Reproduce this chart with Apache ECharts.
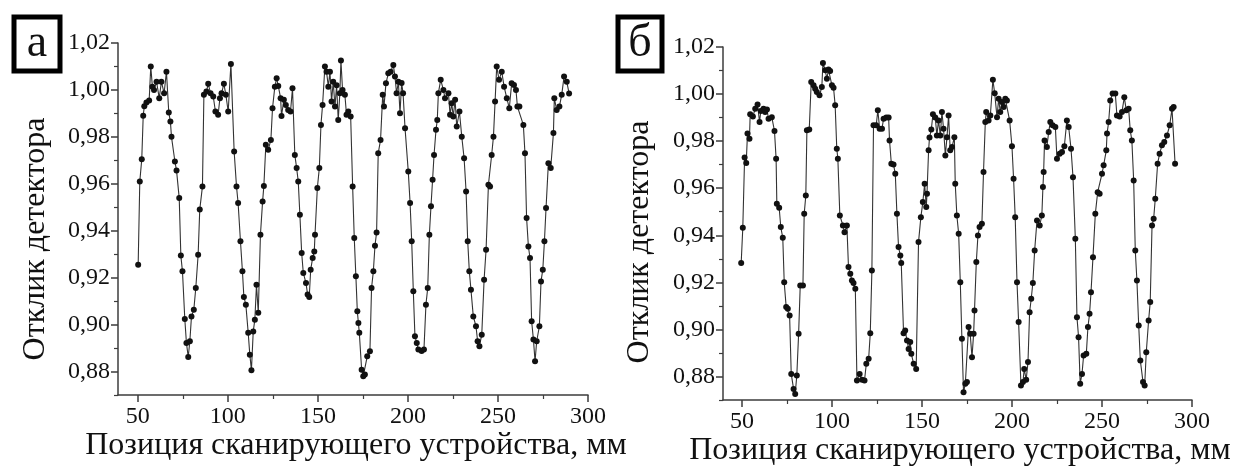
<!DOCTYPE html>
<html>
<head>
<meta charset="utf-8">
<script src="https://cdn.jsdelivr.net/npm/echarts@6/dist/echarts.min.js"></script>
<style>
  html, body { margin: 0; padding: 0; background: #fff; }
  #chart { width: 1235px; height: 468px; }
</style>
</head>
<body>
<div id="chart"></div>
<script>
// Panel "а": scanner position (mm) and detector response
const posA = [
  50.2, 51.1, 52.2, 53.0, 53.6, 54.8, 56.3, 57.2, 58.1, 59.0, 60.4, 61.9, 63.1, 64.6, 65.9, 67.2, 68.1, 68.7,
  70.6, 71.5, 73.0, 73.9, 74.8, 76.1, 77.0, 78.0, 78.9, 79.8, 81.1, 82.2, 83.5, 84.4, 85.9, 86.7, 88.1, 89.1,
  90.4, 91.9, 93.1, 94.6, 95.6, 96.5, 97.8, 98.9, 100.2, 101.7, 103.5, 104.8, 105.7, 107.0, 108.1, 108.9,
  110.0, 111.3, 112.2, 113.1, 114.1, 115.0, 115.9, 116.9, 118.1, 119.3, 120.0, 121.1, 122.4, 123.9, 124.8,
  126.1, 127.1, 128.0, 129.3, 129.8, 131.1, 132.2, 133.5, 134.8, 135.9, 137.2, 138.2, 139.1, 140.0, 141.0,
  141.9, 143.4, 144.3, 145.2, 146.0, 147.1, 148.0, 148.4, 149.7, 150.8, 151.7, 152.6, 153.9, 154.8, 155.8,
  156.7, 157.6, 158.5, 159.5, 160.4, 161.3, 162.2, 162.8, 163.7, 165.0, 165.9, 166.9, 168.2, 169.3, 170.2,
  171.1, 171.9, 172.5, 173.0, 174.3, 175.2, 176.1, 177.4, 178.9, 179.8, 180.8, 181.7, 182.6, 183.5, 184.8,
  186.0, 186.7, 187.8, 189.1, 190.4, 191.9, 192.8, 193.7, 194.7, 195.6, 196.5, 197.3, 198.4, 200.2, 201.2,
  202.1, 203.0, 203.9, 204.9, 205.8, 207.6, 208.9, 210.0, 211.0, 211.9, 212.8, 213.7, 214.5, 215.6, 216.3,
  216.9, 218.2, 219.7, 220.6, 222.5, 223.4, 224.3, 225.2, 226.2, 227.1, 228.6, 229.9, 231.2, 232.3, 233.2,
  234.1, 235.0, 236.3, 237.8, 238.7, 239.7, 241.0, 242.3, 243.4, 244.7, 245.6, 246.5, 247.5, 248.4, 249.3,
  250.6, 252.1, 253.4, 254.9, 256.3, 257.6, 258.9, 260.0, 260.8, 261.9, 264.1, 265.0, 265.9, 266.9, 267.8,
  268.7, 269.7, 270.6, 271.5, 273.0, 273.9, 274.9, 275.8, 276.7, 278.0, 279.3, 280.8, 281.3, 282.6, 284.1,
  285.4, 286.7, 288.2, 289.5
];
const respA = [
  0.9255, 0.961, 0.9705, 0.989, 0.993, 0.9946, 0.9955, 1.010, 1.0014, 1.000, 1.0035, 0.9965, 1.0035, 0.9986, 1.0078, 0.9904, 0.9865, 0.980,
  0.9695, 0.9657, 0.9539, 0.9294, 0.9227, 0.9024, 0.8922, 0.8862, 0.8929, 0.9035, 0.9063, 0.9156, 0.9298, 0.949, 0.9589, 0.9979, 0.9993, 1.0026,
  0.9986, 0.9972, 0.9908, 0.9894, 0.9965, 0.9986, 1.0026, 0.9979, 0.9908, 1.0111, 0.9738, 0.9589, 0.9518, 0.9355, 0.9227, 0.9118,
  0.9085, 0.8965, 0.8872, 0.8806, 0.8971, 0.9021, 0.917, 0.905, 0.9383, 0.9525, 0.9591, 0.9766, 0.9745, 0.9787, 0.9922,
  1.0014, 1.005, 1.0017, 0.9965, 0.9889, 0.9958, 0.9936, 0.9915, 0.9908, 1.0007, 0.9723, 0.9667, 0.961, 0.9468, 0.9305,
  0.922, 0.9177, 0.9128, 0.9118, 0.9234, 0.9284, 0.9312, 0.9383, 0.9582, 0.9667, 0.9851, 0.9936, 1.010, 1.0078, 1.0014,
  1.0078, 0.9951, 1.0035, 0.9929, 1.002, 0.9872, 0.9986, 1.0125, 1.000, 0.9979, 0.9894, 0.9908, 0.9887, 0.9589, 0.9369,
  0.9206, 0.9057, 0.9007, 0.8965, 0.8808, 0.878, 0.8787, 0.8865, 0.8886, 0.9156, 0.9227, 0.9336, 0.9393, 0.973, 0.9787,
  0.9979, 0.9929, 1.0028, 1.0071, 1.0078, 1.0106, 1.0057, 0.9986, 1.0035, 0.9901, 1.003, 0.9986, 0.9837, 0.9652, 0.9518,
  0.9355, 0.9142, 0.895, 0.8922, 0.8894, 0.8887, 0.8894, 0.9085, 0.9156, 0.9383, 0.9504, 0.9617, 0.9723, 0.983, 0.9872,
  0.9986, 1.0043, 1.000, 0.9965, 0.9986, 0.9894, 0.9943, 0.9887, 0.9958, 0.9844, 0.9908, 0.9801, 0.9709, 0.9567, 0.9355,
  0.9227, 0.9149, 0.9035, 0.8993, 0.8929, 0.8908, 0.8957, 0.9191, 0.9319, 0.9596, 0.9589, 0.9723, 0.9801, 0.9951, 1.010,
  1.0043, 1.0078, 1.0014, 0.9965, 0.9922, 1.0028, 1.0021, 1.000, 0.9929, 0.9929, 0.9851, 0.973, 0.9454, 0.9333, 0.9284,
  0.9014, 0.8936, 0.8844, 0.8929, 0.8993, 0.9184, 0.9234, 0.9355, 0.9497, 0.9688, 0.9667, 0.9816, 0.9965, 0.9915, 0.9929,
  0.9979, 1.0057, 1.0035, 0.9985
];

// Panel "б": scanner position (mm) and detector response
const posB = [
  49.6, 50.5, 51.5, 52.4, 53.1, 54.2, 54.6, 56.1, 57.4, 58.7, 59.8, 60.5, 62.0, 62.9, 63.9, 64.8, 66.6, 68.1, 69.0,
  69.4, 70.7, 71.6, 72.7, 73.5, 74.6, 75.5, 76.5, 77.4, 78.7, 79.6, 80.5, 81.5, 82.4, 83.9, 84.6, 85.5, 86.1, 87.4,
  88.5, 89.8, 90.7, 91.6, 93.1, 94.4, 95.0, 96.3, 97.2, 98.1, 99.0, 100.0, 100.9, 101.8, 102.7, 103.3, 104.4, 106.1,
  107.0, 108.3, 109.2, 110.2, 111.1, 112.0, 113.0, 113.9, 115.4, 116.7, 118.1, 119.1, 120.4, 121.3, 122.2, 123.1,
  124.6, 125.5, 126.5, 127.8, 128.7, 130.2, 131.5, 132.0, 133.0, 134.2, 135.2, 136.1, 137.0, 138.0, 138.5, 139.8,
  140.7, 141.7, 142.6, 143.5, 144.1, 145.4, 146.8, 148.1, 149.4, 150.5, 151.5, 152.4, 152.8, 153.7, 154.2, 155.2,
  156.1, 157.4, 158.3, 159.2, 160.2, 161.1, 162.0, 163.0, 163.9, 164.8, 165.7, 166.7, 168.0, 168.5, 169.4, 170.4,
  171.3, 172.2, 173.1, 174.1, 175.0, 175.9, 176.8, 177.8, 178.7, 179.2, 180.2, 181.1, 182.0, 183.3, 184.2, 185.2,
  185.7, 187.0, 188.0, 189.4, 190.4, 191.7, 192.6, 193.5, 194.4, 195.4, 196.3, 197.2, 198.7, 200.0, 200.9, 201.8,
  202.8, 203.7, 205.0, 206.1, 206.8, 207.9, 208.9, 209.8, 210.7, 211.6, 212.6, 213.9, 215.4, 216.6, 217.2, 217.6,
  218.1, 219.4, 220.4, 221.3, 222.6, 224.1, 225.0, 226.5, 227.8, 229.1, 230.5, 231.5, 232.8, 233.9, 235.2, 236.1,
  237.0, 237.9, 238.9, 239.8, 241.3, 242.2, 243.1, 243.9, 245.0, 246.3, 247.6, 248.7, 250.0, 250.9, 252.4, 252.8,
  253.7, 254.6, 255.9, 257.4, 258.3, 259.8, 261.1, 262.4, 263.5, 264.8, 265.7, 266.6, 267.6, 268.5, 269.4, 270.4,
  271.3, 272.8, 273.7, 274.6, 275.9, 276.8, 277.8, 278.7, 279.6, 280.9, 282.0, 283.3, 284.6, 286.1, 287.6, 288.9,
  289.8, 290.6
];
const respB = [
  0.9282, 0.9432, 0.973, 0.9707, 0.9832, 0.981, 0.9914, 0.9905, 0.9938, 0.9956, 0.9881, 0.9928, 0.9938, 0.9924, 0.9934, 0.9895, 0.9902, 0.9843, 0.9725,
  0.9534, 0.9517, 0.9435, 0.9389, 0.920, 0.9095, 0.9088, 0.9059, 0.8811, 0.8747, 0.8726, 0.8804, 0.8981, 0.9187, 0.9187, 0.9491, 0.9569, 0.9846, 0.9849,
  1.0051, 1.0037, 1.0023, 1.0009, 0.9995, 1.003, 1.0132, 1.0101, 1.0065, 1.0104, 1.0098, 1.0037, 1.0027, 0.9952, 0.9768, 0.9725, 0.9484, 0.9442,
  0.9413, 0.9442, 0.9265, 0.9236, 0.9208, 0.9197, 0.9173, 0.8783, 0.8811, 0.8786, 0.8783, 0.8854, 0.8875, 0.8984, 0.925, 0.9867,
  0.9867, 0.9931, 0.9853, 0.9853, 0.9895, 0.990, 0.990, 0.9803, 0.9704, 0.9701, 0.9661, 0.9491, 0.935, 0.9314, 0.9282, 0.8984,
  0.8995, 0.8953, 0.8917, 0.8946, 0.8896, 0.8854, 0.8832, 0.9371, 0.9477, 0.9541, 0.9619, 0.952, 0.9576, 0.9761, 0.9815, 0.9849,
  0.9914, 0.990, 0.9824, 0.9888, 0.9824, 0.9924, 0.9853, 0.9739, 0.9817, 0.9909, 0.9761, 0.9775, 0.9817, 0.9619, 0.9484, 0.9406,
  0.920, 0.896, 0.8733, 0.8769, 0.8776, 0.901, 0.8981, 0.8882, 0.8981, 0.908, 0.9286, 0.9399, 0.9435, 0.9449, 0.9669, 0.9881,
  0.9924, 0.9888, 0.9909, 1.0061, 1.0004, 0.9902, 0.998, 0.9924, 0.9966, 0.9945, 0.998, 0.9973, 0.9888, 0.9778, 0.964, 0.9477,
  0.920, 0.9031, 0.8762, 0.8776, 0.8832, 0.8786, 0.8861, 0.9073, 0.913, 0.9197, 0.9335, 0.9463, 0.9442, 0.9484, 0.9605, 0.9669,
  0.9803, 0.9775, 0.9839, 0.9881, 0.9867, 0.986, 0.9725, 0.9746, 0.9754, 0.9778, 0.9888, 0.986, 0.9768, 0.9647, 0.9385, 0.9052,
  0.8967, 0.8769, 0.8811, 0.8889, 0.8896, 0.901, 0.9066, 0.9158, 0.9307, 0.9491, 0.9583, 0.9576, 0.9661, 0.9697, 0.9761, 0.9832,
  0.9881, 0.9973, 1.0002, 1.0002, 0.9909, 0.9905, 0.9924, 0.9987, 0.9931, 0.9938, 0.9846, 0.9803, 0.9633, 0.9335, 0.9208, 0.9017,
  0.8868, 0.8776, 0.8762, 0.8903, 0.9038, 0.9116, 0.9442, 0.947, 0.9555, 0.9704, 0.9746, 0.9782, 0.9796, 0.9824, 0.9867, 0.9938,
  0.9945, 0.9704
];

// Axis ticks and labels
const xMajor = [50, 100, 150, 200, 250, 300];
const xMinor = [75, 125, 175, 225, 275];
const yMajor = [0.88, 0.90, 0.92, 0.94, 0.96, 0.98, 1.00, 1.02];
const yMinor = [0.87, 0.89, 0.91, 0.93, 0.95, 0.97, 0.99, 1.01];
const panelLetters = ['а', 'б'];
const xTitle = 'Позиция сканирующего устройства, мм';
const yTitle = 'Отклик детектора';

const FONT = '"Liberation Serif", "DejaVu Serif", serif';
const INK = '#111';
const AXIS = '#3c3c3c';

function zip(xs, ys) { return xs.map((x, i) => [x, ys[i]]); }

function fmtY(v) { return v.toFixed(2).replace('.', ','); }

const grids = [
  { left: 118, top: 43, width: 470, height: 352 },
  { left: 723, top: 47, width: 469, height: 353 }
];
const xMins = [39, 39.5];

const xAxes = [], yAxes = [];
grids.forEach((g, i) => {
  // main x axis with labelled ticks
  xAxes.push({
    gridIndex: i, type: 'value', min: xMins[i], max: 300,
    axisLine: { show: true, lineStyle: { color: AXIS, width: 1.5 } },
    axisTick: { show: true, customValues: xMajor, length: 7, lineStyle: { color: AXIS, width: 1.5 } },
    axisLabel: { customValues: xMajor, fontFamily: FONT, fontSize: 24, color: INK, margin: 10 },
    splitLine: { show: false }
  });
  // minor ticks
  xAxes.push({
    gridIndex: i, type: 'value', min: xMins[i], max: 300, position: 'bottom',
    axisLine: { show: false },
    axisTick: { show: true, customValues: xMinor, length: 4, lineStyle: { color: AXIS, width: 1.2 } },
    axisLabel: { show: false },
    splitLine: { show: false }
  });
  yAxes.push({
    gridIndex: i, type: 'value', min: 0.87, max: 1.02,
    axisLine: { show: true, lineStyle: { color: AXIS, width: 1.5 } },
    axisTick: { show: true, customValues: yMajor, length: 7, lineStyle: { color: AXIS, width: 1.5 } },
    axisLabel: { customValues: yMajor, formatter: fmtY, fontFamily: FONT, fontSize: 24, color: INK, margin: 8 },
    splitLine: { show: false }
  });
  yAxes.push({
    gridIndex: i, type: 'value', min: 0.87, max: 1.02, position: 'left',
    axisLine: { show: false },
    axisTick: { show: true, customValues: yMinor, length: 4, lineStyle: { color: AXIS, width: 1.2 } },
    axisLabel: { show: false },
    splitLine: { show: false }
  });
});

function lineSeries(i, data) {
  return {
    type: 'line', xAxisIndex: i * 2, yAxisIndex: i * 2, data: data,
    showAllSymbol: true, symbol: 'circle', symbolSize: 6,
    itemStyle: { color: INK },
    lineStyle: { color: '#333', width: 1.1 },
    emphasis: { disabled: true },
    z: 3
  };
}

// Panel letter boxes and axis titles
const graphics = [
  { type: 'rect', shape: { x: 14, y: 17, width: 46, height: 54 }, style: { fill: '#fff', stroke: '#000', lineWidth: 5 } },
  { type: 'text', x: 37, y: 44, style: { text: panelLetters[0], font: '46px ' + FONT, fill: INK, align: 'center', verticalAlign: 'middle' } },
  { type: 'rect', shape: { x: 618, y: 17, width: 44, height: 54 }, style: { fill: '#fff', stroke: '#000', lineWidth: 5 } },
  { type: 'text', x: 640, y: 44, style: { text: panelLetters[1], font: '46px ' + FONT, fill: INK, align: 'center', verticalAlign: 'middle' } },
  { type: 'text', x: 36, y: 239, rotation: Math.PI / 2, style: { text: yTitle, font: '32px ' + FONT, fill: INK, align: 'center', verticalAlign: 'middle' } },
  { type: 'text', x: 640, y: 242, rotation: Math.PI / 2, style: { text: yTitle, font: '32px ' + FONT, fill: INK, align: 'center', verticalAlign: 'middle' } },
  { type: 'text', x: 356, y: 446, style: { text: xTitle, font: '32px ' + FONT, fill: INK, align: 'center', verticalAlign: 'middle' } },
  { type: 'text', x: 960, y: 451, style: { text: xTitle, font: '32px ' + FONT, fill: INK, align: 'center', verticalAlign: 'middle' } }
];

const chart = echarts.init(document.getElementById('chart'), null, { renderer: 'canvas' });
chart.setOption({
  animation: false,
  backgroundColor: '#fff',
  grid: grids,
  xAxis: xAxes,
  yAxis: yAxes,
  series: [lineSeries(0, zip(posA, respA)), lineSeries(1, zip(posB, respB))],
  graphic: graphics
});
</script>
</body>
</html>
